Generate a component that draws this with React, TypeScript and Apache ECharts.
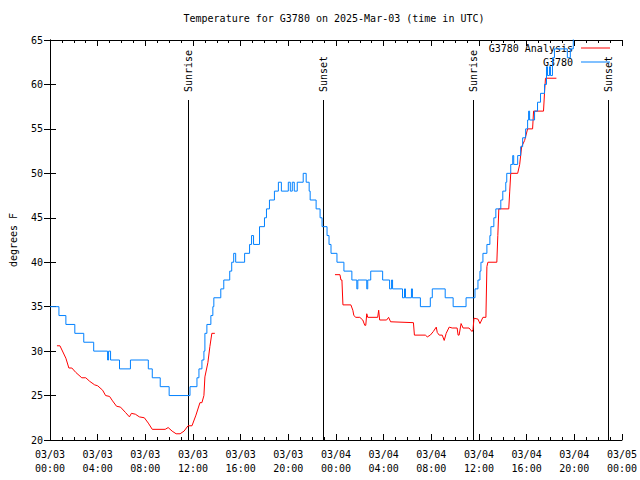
import React, { useEffect, useRef } from "react";
import * as echarts from "echarts";

// x values are minutes since 2025-03-03 00:00 UTC
const tickDates = ["03/03", "03/03", "03/03", "03/03", "03/03", "03/03", "03/04", "03/04", "03/04", "03/04", "03/04", "03/04", "03/05"];
const tickTimes = ["00:00", "04:00", "08:00", "12:00", "16:00", "20:00", "00:00", "04:00", "08:00", "12:00", "16:00", "20:00", "00:00"];

const sunTimes = [695, 1376, 2132, 2811];
const sunLabels = ["Sunrise", "Sunset", "Sunrise", "Sunset"];

const obsMinutes = [
  0, 45, 80, 125, 170, 220, 290, 295, 305, 350, 405, 495, 515, 555, 600,
  705, 740, 750, 765, 775, 780, 790, 810, 820, 825, 860, 875, 905, 915, 925,
  935, 980, 1005, 1015, 1025, 1055, 1080, 1090, 1105, 1130, 1150, 1165, 1200, 1210, 1220,
  1230, 1245, 1275, 1290, 1305, 1310, 1340, 1360, 1370, 1395, 1405, 1415, 1445, 1480, 1520,
  1545, 1550, 1595, 1600, 1615, 1675, 1710, 1720, 1725, 1775, 1785, 1790, 1820, 1825, 1865,
  1915, 1925, 1990, 2030, 2095, 2140, 2155, 2165, 2170, 2180, 2200, 2215, 2220, 2235, 2245,
  2270, 2280, 2295, 2300, 2320, 2330, 2335, 2355, 2370, 2380, 2395, 2405, 2410, 2415, 2440,
  2455, 2470, 2490, 2500, 2505, 2515, 2520, 2530, 2540, 2605, 2620, 2635, 2645,
];
const obsTemps = [
  35, 34, 33, 32, 31, 30, 29, 30, 29, 28, 29, 28, 27, 26, 25,
  26, 27, 28, 29, 30, 32, 33, 34, 35, 36, 37, 38, 39, 40, 41,
  40, 41, 42, 43, 42, 44, 45, 46, 47, 48, 49, 48, 49, 48, 49,
  48, 49, 50, 49, 48, 47, 46, 45, 44, 43, 42, 41, 40, 39, 38,
  37, 38, 37, 38, 39, 38, 37, 38, 37, 36, 37, 36, 37, 36, 35,
  36, 37, 36, 35, 36, 37, 38, 39, 40, 41, 42, 43, 44, 45, 46,
  47, 48, 49, 50, 51, 52, 51, 52, 53, 54, 55, 56, 57, 56, 57,
  58, 59, 60, 62, 61, 62, 61, 63, 64, 63, 64, 66, 67,
];

const anaMinutes = [
  35, 50, 65, 80, 95, 110, 130, 160, 180, 200, 225, 240, 265, 280, 300,
  315, 335, 355, 380, 400, 410, 430, 450, 475, 495, 515, 580, 595, 615, 635,
  655, 675, 695, 715, 735, 755, 765, 775, 780, 795, 805, 815, 830,
  1100,
  1435, 1460, 1465, 1470, 1475, 1515, 1525, 1530, 1540, 1560, 1575, 1585, 1590, 1595, 1600,
  1650, 1655, 1660, 1695, 1705, 1715, 1830, 1835, 1890, 1900, 1915, 1930, 1945, 1950, 1960,
  1975, 1985, 1995, 2010, 2025, 2050, 2055, 2060, 2070, 2080, 2110, 2125, 2130, 2135, 2155,
  2165, 2180, 2195, 2200, 2205, 2250, 2255, 2260, 2310, 2315, 2320, 2355, 2365, 2375, 2390,
  2405, 2430, 2435, 2485, 2490, 2495, 2550,
];
const anaTemps: (number | null)[] = [
  30.6, 30.6, 29.9, 29.2, 28.1, 28.1, 27.6, 27, 27, 26.6, 26.2, 26.1, 25.6, 25, 24.9,
  24.4, 23.8, 23.7, 23.1, 22.6, 23, 22.9, 22.6, 22.5, 21.9, 21.2, 21.2, 21.4, 21, 20.7,
  20.7, 21, 21.6, 21.6, 22.8, 24.2, 24.2, 25, 27.1, 28.7, 30.5, 32, 32,
  null,
  38.6, 38.6, 38, 38, 35.2, 35.2, 34.6, 34, 33.8, 33.8, 33.5, 32.9, 32.9, 34.2, 33.8,
  33.8, 34.6, 33.5, 33.5, 33.8, 33.3, 33.2, 31.8, 31.8, 31.6, 31.8, 32.2, 32.7, 32.1, 31.8,
  31.8, 31.2, 32, 32.7, 32.6, 32.6, 31.8, 31.8, 33.1, 32.6, 32.6, 32.2, 32.4, 33.7, 33.6,
  33.1, 33.8, 33.8, 39.5, 40, 40, 43, 46, 46, 48, 50, 50, 51, 53, 53.7,
  55, 55, 57, 57, 59, 60.7, 60.7,
];

const FONT = '"DejaVu Sans Mono", "Liberation Mono", monospace';

export default function App() {
  const ref = useRef<HTMLDivElement>(null);
  useEffect(() => {
    if (!ref.current) return;
    const chart = echarts.init(ref.current, undefined, { renderer: "svg" });
    const xCommon = {
      type: "value" as const,
      min: 0,
      max: 2880,
      interval: 240,
      axisLine: { show: true, lineStyle: { color: "#000", width: 1 } },
      axisTick: { show: true, inside: true, length: 6, lineStyle: { color: "#000" } },
      minorTick: { show: true, splitNumber: 4, length: 3, lineStyle: { color: "#000" } },
      splitLine: { show: false },
      minorSplitLine: { show: false },
    };
    const yCommon = {
      type: "value" as const,
      min: 20,
      max: 65,
      interval: 5,
      axisLine: { show: true, lineStyle: { color: "#000", width: 1 } },
      axisTick: { show: true, inside: true, length: 6, lineStyle: { color: "#000" } },
      splitLine: { show: false },
    };
    const legendCommon = {
      right: 30,
      padding: 0,
      align: "right" as const,
      icon: "rect",
      itemWidth: 29,
      itemHeight: 1,
      textStyle: { fontFamily: FONT, fontSize: 10, color: "#000", padding: [0, 3, 0, 0] },
    };
    chart.setOption({
      animation: false,
      backgroundColor: "#fff",
      textStyle: { fontFamily: FONT },
      title: {
        text: "Temperature for G3780 on 2025-Mar-03 (time in UTC)",
        left: 334,
        textAlign: "center",
        top: 13,
        padding: 0,
        textStyle: { fontFamily: FONT, fontSize: 10, fontWeight: "normal", color: "#000" },
      },
      legend: [
        { ...legendCommon, data: ["G3780 Analysis"], top: 43 },
        { ...legendCommon, data: ["G3780"], top: 57 },
      ],
      grid: { left: 47, right: 18, top: 40, bottom: 40, containLabel: false },
      xAxis: [
        {
          ...xCommon,
          position: "bottom",
          axisLabel: {
            show: true,
            margin: 7,
            fontFamily: FONT,
            fontSize: 10,
            color: "#000",
            lineHeight: 14,
            formatter: (v: number) => {
              const i = Math.round(v / 240);
              return tickDates[i] + "\n" + tickTimes[i];
            },
          },
        },
        { ...xCommon, position: "top", axisLabel: { show: false } },
      ],
      yAxis: [
        {
          ...yCommon,
          position: "left",
          name: "degrees F",
          nameLocation: "middle",
          nameRotate: 90,
          nameGap: 32,
          nameTextStyle: { fontFamily: FONT, fontSize: 10, color: "#000" },
          axisLabel: { show: true, margin: 7, fontFamily: FONT, fontSize: 10, color: "#000" },
        },
        { ...yCommon, position: "right", axisLabel: { show: false } },
      ],
      series: [
        {
          name: "G3780 Analysis",
          type: "line",
          data: anaMinutes.map((m, i) => [m, anaTemps[i]]),
          symbol: "none",
          connectNulls: false,
          lineStyle: { color: "#ff0000", width: 1 },
          itemStyle: { color: "#ff0000" },
          clip: true,
          z: 3,
        },
        {
          name: "G3780",
          type: "line",
          data: obsMinutes.map((m, i) => [m, obsTemps[i]]),
          symbol: "none",
          step: "end",
          lineStyle: { color: "#0080ff", width: 1 },
          itemStyle: { color: "#0080ff" },
          clip: true,
          z: 4,
        },
        {
          name: "sun",
          type: "custom",
          data: sunTimes.map((t) => [t, 20]),
          encode: { x: 0, y: 1 },
          clip: false,
          z: 2,
          renderItem: (params: any, api: any) => {
            const bottom = api.coord([api.value(0), 20]);
            const top = api.coord([api.value(0), 65]);
            const x = Math.round(bottom[0]) + 0.5;
            return {
              type: "group",
              children: [
                {
                  type: "line",
                  shape: { x1: x, y1: top[1] + 60, x2: x, y2: bottom[1] },
                  style: { stroke: "#000", lineWidth: 1 },
                },
                {
                  type: "text",
                  x: x,
                  y: top[1] + 52,
                  rotation: Math.PI / 2,
                  style: {
                    text: sunLabels[params.dataIndex],
                    fill: "#000",
                    font: "10px " + FONT,
                    align: "left",
                    verticalAlign: "middle",
                  },
                },
              ],
            };
          },
        },
      ],
    });
    return () => chart.dispose();
  }, []);
  return (
    <div
      ref={ref}
      style={{ position: "fixed", left: 0, top: 0, width: 640, height: 480 }}
    />
  );
}
